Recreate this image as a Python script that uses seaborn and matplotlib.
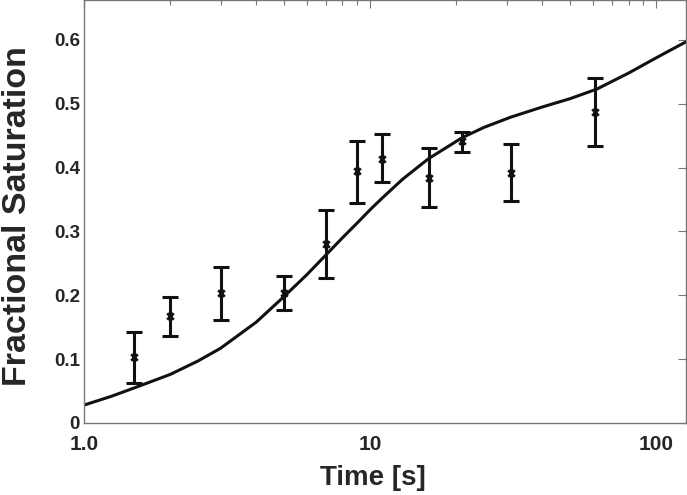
import numpy as np
import pandas as pd
import matplotlib
matplotlib.use("Agg")
import matplotlib.pyplot as plt
import seaborn as sns
from matplotlib.ticker import FixedLocator, FixedFormatter, LogLocator, NullFormatter

# measured points (time in s, fractional saturation, error bar ends)
times = [1.5, 2, 3, 5, 7, 9, 11, 16, 21, 31, 61]
sat = [0.103, 0.167, 0.204, 0.204, 0.281, 0.394, 0.414, 0.383, 0.441, 0.392, 0.487]
err_low = [0.062, 0.136, 0.161, 0.177, 0.227, 0.345, 0.377, 0.338, 0.425, 0.347, 0.434]
err_high = [0.142, 0.198, 0.245, 0.230, 0.334, 0.442, 0.453, 0.430, 0.456, 0.437, 0.540]

# fitted curve
fit_t = [1.0, 1.25, 1.5, 2, 2.5, 3, 4, 5, 6, 7, 8, 9, 10, 11, 13, 16, 21, 25, 31,
         40, 50, 62, 80, 100, 127]
fit_y = [0.028, 0.042, 0.055, 0.076, 0.097, 0.117, 0.158, 0.198, 0.232, 0.263, 0.290,
         0.313, 0.334, 0.352, 0.382, 0.414, 0.447, 0.463, 0.479, 0.495, 0.508, 0.523,
         0.548, 0.572, 0.597]

xticks = [1, 10, 100]
xtick_labels = ["1.0", "10", "100"]
yticks = [0, 0.1, 0.2, 0.3, 0.4, 0.5, 0.6]
ytick_labels = ["0", "0.1", "0.2", "0.3", "0.4", "0.5", "0.6"]

sns.set_style("white")
plt.rcParams["font.family"] = ["Liberation Sans", "DejaVu Sans"]
plt.rcParams["font.weight"] = "bold"

df_pts = pd.DataFrame({"time": times, "sat": sat})
df_fit = pd.DataFrame({"time": fit_t, "sat": fit_y})

fig = plt.figure(figsize=(6.87, 4.95), dpi=100)
ax = fig.add_axes([0.1223, 0.1455, 0.8762, 0.8545])

sns.lineplot(data=df_fit, x="time", y="sat", color="#111111", linewidth=2.2, ax=ax)

yerr = [np.array(sat) - np.array(err_low), np.array(err_high) - np.array(sat)]
ax.errorbar(times, sat, yerr=yerr, fmt="none", ecolor="#111111",
            elinewidth=2.2, capsize=6, capthick=2.2)
sns.scatterplot(data=df_pts, x="time", y="sat", marker="x", s=22, color="#111111",
                linewidth=2.0, ax=ax, zorder=5)

ax.set_xscale("log")
ax.set_xlim(1, 127)
ax.set_ylim(0, 0.6625)
ax.xaxis.set_major_locator(FixedLocator(xticks))
ax.xaxis.set_major_formatter(FixedFormatter(xtick_labels))
ax.xaxis.set_minor_locator(LogLocator(base=10, subs=np.arange(2, 10)))
ax.xaxis.set_minor_formatter(NullFormatter())
ax.yaxis.set_major_locator(FixedLocator(yticks))
ax.yaxis.set_major_formatter(FixedFormatter(ytick_labels))

ax.tick_params(axis="both", which="both", direction="in", top=True, right=True,
               color="#777777")
ax.tick_params(axis="both", which="major", length=6, width=0.8)
ax.tick_params(axis="x", which="major", labelsize=15, pad=9)
ax.tick_params(axis="y", which="major", labelsize=13.5, pad=3)
ax.tick_params(axis="x", which="minor", length=3.5, width=0.8)
for lab in ax.get_xticklabels() + ax.get_yticklabels():
    lab.set_fontweight("bold")
for sp in ax.spines.values():
    sp.set_color("#777777")
    sp.set_linewidth(1.0)

ax.set_xlabel("Time [s]", fontsize=20, fontweight="bold")
ax.set_ylabel("Fractional Saturation", fontsize=24.5, fontweight="bold")
ax.xaxis.set_label_coords(0.48, -0.1)
ax.yaxis.set_label_coords(-0.085, 0.49)

fig.savefig("out.png", dpi=100)
